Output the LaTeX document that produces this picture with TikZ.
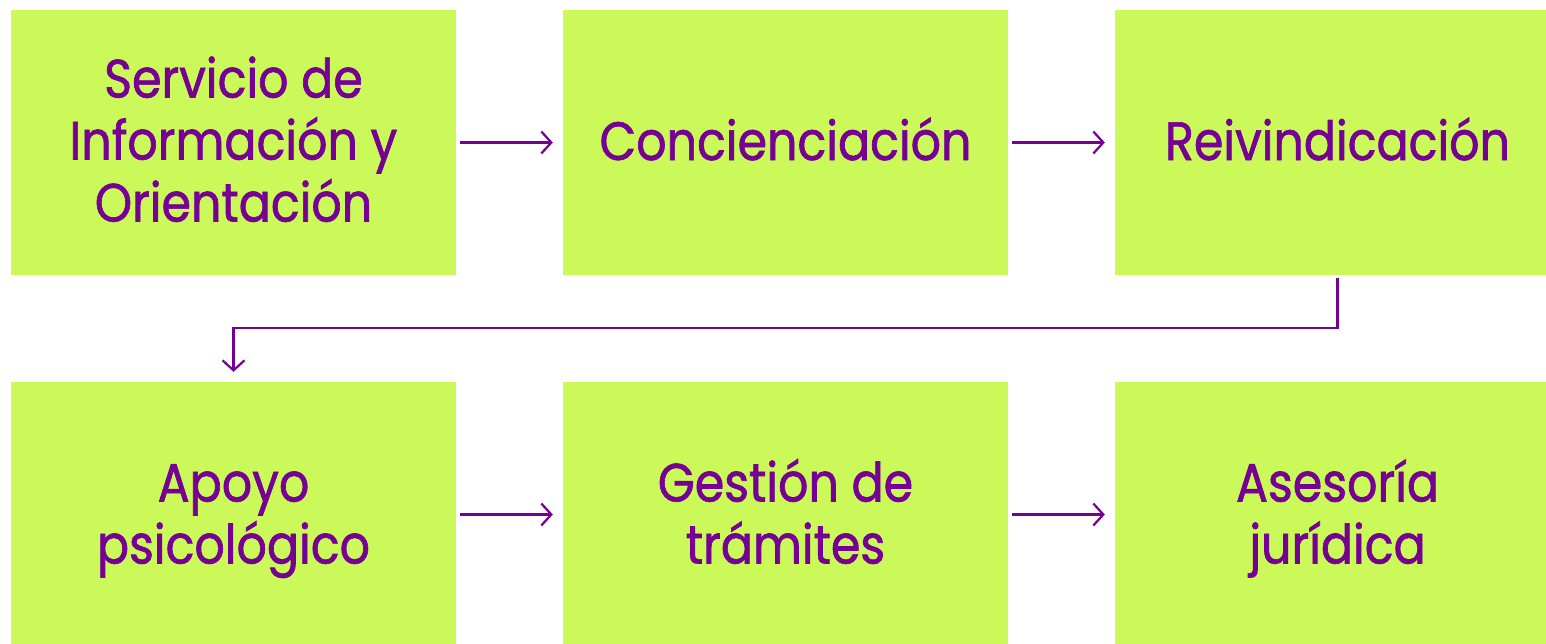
\documentclass[tikz,border=0pt]{standalone}
\usepackage{fontspec}
\setmainfont{Poppins}[FakeStretch=0.88,FakeBold=1.2]
\usetikzlibrary{arrows.meta}
\definecolor{boxgreen}{RGB}{204,249,90}
\definecolor{txtpurple}{RGB}{117,0,147}
\tikzset{
  etapa/.style={rectangle, fill=boxgreen, text=txtpurple, inner sep=0pt,
    minimum width=445pt, minimum height=265pt, align=center,
    font=\fontsize{54}{62}\selectfont},
  una/.style={text height=45pt, text depth=10pt},
  dos/.style={text height=112pt, text depth=14pt},
  tres/.style={text depth=7pt},
  flecha/.style={draw=txtpurple, line width=2.2pt,
    -{Straight Barb[length=10pt,width=22pt]}}
}
\begin{document}
\begin{tikzpicture}[x=1pt,y=-1pt]
\useasboundingbox (0,0) rectangle (1546,643);
% fila de arriba
\node[etapa, tres] (info) at (233.5,142.5) {Servicio de\\Información y\\Orientación};
\node[etapa, una] (conc) at (785.5,142.5) {Concienciación};
\node[etapa, una] (reiv) at (1337.5,142.5) {Reivindicación};
% fila de abajo
\node[etapa, dos] (apoyo) at (233.5,514.5) {Apoyo\\psicológico};
\node[etapa, dos] (gest) at (785.5,514.5) {Gestión de\\trámites};
\node[etapa, dos] (ases) at (1337.5,514.5) {Asesoría\\jurídica};
% flechas
\draw[flecha, shorten <=4pt, shorten >=10pt] (info) -- (conc);
\draw[flecha, shorten <=4pt, shorten >=10pt] (conc) -- (reiv);
\draw[flecha, shorten <=3pt, shorten >=10pt] (reiv.south) -- ++(0,53) -| (apoyo.north);
\draw[flecha, shorten <=4pt, shorten >=10pt] (apoyo) -- (gest);
\draw[flecha, shorten <=4pt, shorten >=10pt] (gest) -- (ases);
\end{tikzpicture}
\end{document}
